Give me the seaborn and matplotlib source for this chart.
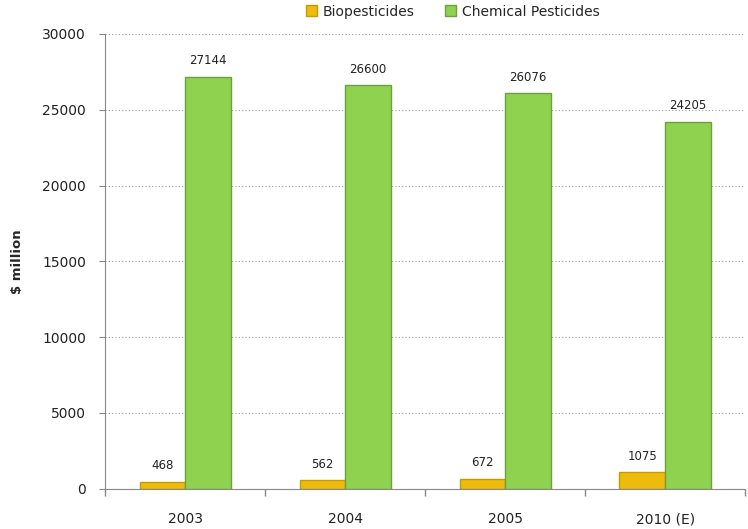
import matplotlib
matplotlib.use("Agg")
import matplotlib.pyplot as plt
import seaborn as sns
import pandas as pd

years = ["2003", "2004", "2005", "2010 (E)"]
biopesticides = [468, 562, 672, 1075]
chemical = [27144, 26600, 26076, 24205]
series = ["Biopesticides", "Chemical Pesticides"]
colors = ["#EDBB0C", "#8FD24F"]
edges = ["#C99A00", "#6E9F3C"]

df = pd.DataFrame({
    "year": years * 2,
    "value": biopesticides + chemical,
    "series": [series[0]] * 4 + [series[1]] * 4,
})

sns.set_style("white")
plt.rcParams['font.family'] = ['DejaVu Sans']

fig = plt.figure(figsize=(7.48, 5.29), dpi=100)
ax = fig.add_axes([0.141, 0.076, 0.855, 0.860])

sns.barplot(data=df, x="year", y="value", hue="series", palette=colors,
            width=0.57, ax=ax, legend=False, saturation=1)

for i, cont in enumerate(ax.containers):
    for bar in cont:
        bar.set_edgecolor(edges[i])
        bar.set_linewidth(1.0)
    ax.bar_label(cont, fmt="%d", padding=7, fontsize=8.5, color="#222222")

ax.set_ylim(0, 30000)
ax.set_yticks(range(0, 30001, 5000))
ax.set_xlim(-0.5, 3.5)
ax.yaxis.grid(True, linestyle=(0, (1, 2)), color="#999999", linewidth=0.8)
ax.set_axisbelow(True)
for s in ["top", "right"]:
    ax.spines[s].set_visible(False)
ax.spines["left"].set_color("#888888")
ax.spines["bottom"].set_color("#888888")
ax.tick_params(axis="y", left=True, length=4, color="#888888", labelsize=10,
               labelcolor="#222222", pad=10)
ax.tick_params(axis="x", bottom=False, length=0, labelsize=10, labelcolor="#222222", pad=17)
ax.set_xticks([-0.5, 0.5, 1.5, 2.5, 3.5], minor=True)
ax.tick_params(axis="x", which="minor", bottom=True, length=5, width=1,
               color="#888888", direction="out")
ax.set_xlabel("")
ax.set_ylabel("$ million", fontsize=9.5, fontweight="bold", labelpad=13)

from matplotlib.patches import Patch
handles = [Patch(facecolor=colors[i], edgecolor=edges[i]) for i in range(2)]
fig.legend(handles, series, loc="upper center", bbox_to_anchor=(0.605, 1.015),
           ncol=2, frameon=False, fontsize=10, handlelength=0.8, handleheight=0.8,
           handletextpad=0.4, columnspacing=2.2)

fig.savefig("out.png", dpi=100)
